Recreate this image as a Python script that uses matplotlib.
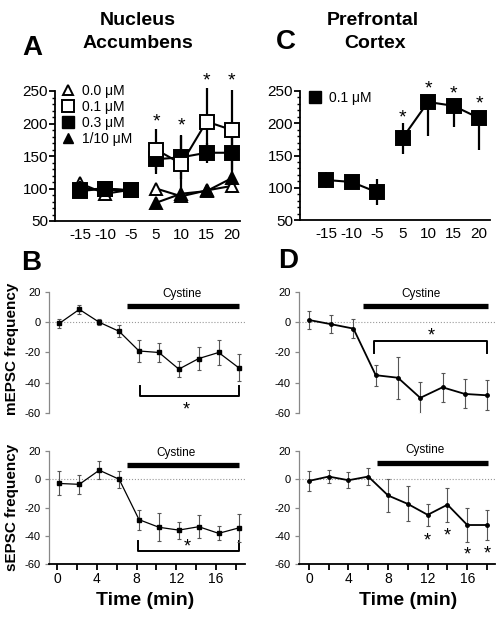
import matplotlib.pyplot as plt
from matplotlib.lines import Line2D
from matplotlib.ticker import MultipleLocator

plt.rcParams['font.family'] = ['Liberation Sans', 'DejaVu Sans']
plt.rcParams['axes.unicode_minus'] = False

W, H = 503, 618

# ---- panels A / C : % baseline around cystine (min) ----
time_labels = ['-15', '-10', '-5', '5', '10', '15', '20']

nac_00 = [108, 92, 98, 100, 88, 97, 104]
nac_00_err = [8, 6, 5, 5, 4, 3, 6]
nac_01 = [98, 100, 97, 160, 138, 203, 190]
nac_01_err = [10, 10, 12, 31, 44, 51, 62]
nac_03 = [96, 100, 97, 145, 148, 155, 155]
nac_03_err = [8, 8, 12, 22, 33, 15, 30]
nac_110 = [100, 98, 97, 78, 92, 96, 116]
nac_110_err = [12, 10, 8, 8, 8, 5, 10]
nac_star_y = [213, 206, 275, 275]  # stars over 5, 10, 15, 20

pfc_01 = [112, 109, 93, 177, 233, 227, 208]
pfc_01_lo = [12, 10, 20, 25, 53, 33, 50]
pfc_01_hi = [12, 10, 20, 24, 0, 0, 0]
pfc_star_y = [219, 264, 255, 241]

# ---- panels B / D : % change in frequency vs time (min) ----
times_b = [0.25, 2.25, 4.25, 6.25, 8.25, 10.25, 12.25, 14.25, 16.25, 18.25]
mepsc_nac = [-0.7, 8.5, 0, -6, -19, -20, -31, -24, -20, -30]
mepsc_nac_err = [3, 3, 2, 4, 7, 6, 5.5, 7.5, 8, 9]
sepsc_nac = [-3, -3.6, 6.4, 0, -28.6, -34, -36, -33.6, -38.3, -34.5]
sepsc_nac_err = [8.5, 6.5, 6.5, 6, 7, 10, 6, 8.3, 5, 10]

times_d_m = [0, 2.25, 4.5, 6.75, 9, 11.25, 13.5, 15.75, 18]
mepsc_pfc = [1.5, -1.3, -4.2, -35, -36.7, -50, -43, -47.4, -48.3]
mepsc_pfc_err = [6, 6, 6.5, 7, 14, 10.5, 9.5, 9.6, 10]
times_d_s = [0, 2, 4, 6, 8, 10, 12, 14, 16, 18]
sepsc_pfc = [-1.2, 1.9, -0.7, 1.9, -11.5, -17.5, -25.2, -18, -32.4, -32.4]
sepsc_pfc_err = [7, 4.5, 5.8, 6, 11.4, 12.4, 7.6, 12, 12.2, 10.3]
sepsc_pfc_star_x = [12, 14, 16, 18]
sepsc_pfc_star_y = [-39.6, -36, -49.6, -49]


def px_axes(l, t, r, b):
    return fig.add_axes([l / W, 1 - b / H, (r - l) / W, (b - t) / H])


def star(ax, x, y, fs=14):
    ax.annotate('*', xy=(x, y), xytext=(0, -0.575 * fs), textcoords='offset points',
                ha='center', va='baseline', fontsize=fs, annotation_clip=False)


def series(ax, y, err, marker, filled, z_pre, z_post, ms=10):
    face = 'black' if filled else 'white'
    for sl, z in ((slice(0, 3), z_pre), (slice(3, 7), z_post)):
        xs = list(range(7))[sl]
        e = [err[0][sl], err[1][sl]] if isinstance(err, tuple) else err[sl]
        ax.errorbar(xs, y[sl], yerr=e, fmt='-', color='black', lw=1.5, elinewidth=1.6,
                    capsize=0, marker=marker, ms=ms, mfc=face, mec='black', mew=1.4,
                    zorder=z, clip_on=False)


def style_top(ax, xlim):
    ax.set_xlim(*xlim)
    ax.set_ylim(50, 250)
    for s in ('top', 'right'):
        ax.spines[s].set_visible(False)
    ax.spines['left'].set_linewidth(1.3)
    ax.spines['bottom'].set_linewidth(1.3)
    ax.set_xticks(range(7))
    ax.set_xticklabels(time_labels)
    ax.set_yticks([50, 100, 150, 200, 250])
    ax.yaxis.set_minor_locator(MultipleLocator(10))
    ax.tick_params(axis='x', length=0, labelsize=11, pad=5)
    ax.tick_params(axis='y', which='major', length=4, width=1.3, labelsize=11, pad=1)
    ax.tick_params(axis='y', which='minor', length=2, width=1)


def style_time(ax, xlim, bottom):
    ax.set_xlim(*xlim)
    ax.set_ylim(-60, 20)
    for s in ('top', 'right'):
        ax.spines[s].set_visible(False)
    ax.spines['left'].set_color('#888888')
    ax.spines['left'].set_linewidth(0.9)
    ax.set_yticks([-60, -40, -20, 0, 20])
    ax.tick_params(axis='y', length=3, width=0.9, color='#888888', labelsize=8, pad=3)
    ax.axhline(0, color='#999999', ls=':', lw=0.8, zorder=0)
    if bottom:
        ax.spines['bottom'].set_linewidth(1.3)
        ax.set_xticks([0, 4, 8, 12, 16])
        ax.xaxis.set_minor_locator(MultipleLocator(2))
        ax.tick_params(axis='x', which='both', length=4, width=1.3, labelsize=10, pad=2)
    else:
        ax.spines['bottom'].set_visible(False)
        ax.set_xticks([])


def time_series(ax, t, y, err, marker, ms, lw):
    ax.errorbar(t, y, yerr=err, fmt='-', color='black', lw=lw, marker=marker, ms=ms,
                ecolor='#555555', elinewidth=0.8, capsize=1.5, capthick=0.8, zorder=3)


def cystine(ax, x0, x1, ybar, xt, yt):
    ax.plot([x0, x1], [ybar, ybar], color='black', lw=3.8, solid_capstyle='butt')
    ax.text(xt, yt, 'Cystine', ha='center', va='center', fontsize=8.5)


def bracket(ax, x0, x1, y, yend):
    ax.plot([x0, x0, x1, x1], [yend, y, y, yend], color='black', lw=1.4)


fig = plt.figure(figsize=(W / 100, H / 100), dpi=100)

# ---------------- A ----------------
axA = px_axes(55, 91, 240, 221)
series(axA, nac_00, nac_00_err, '^', False, 3, 3, ms=9)
series(axA, nac_110, nac_110_err, '^', True, 4, 4, ms=9)
series(axA, nac_01, nac_01_err, 's', False, 5, 7)
series(axA, nac_03, nac_03_err, 's', True, 6, 6)
style_top(axA, (-0.99, 6.32))
for i, ys in enumerate(nac_star_y):
    star(axA, 3 + i, ys)
handles = [
    Line2D([], [], ls='none', marker='^', ms=7.5, mfc='white', mec='black', mew=1.4),
    Line2D([], [], ls='none', marker='s', ms=8.5, mfc='white', mec='black', mew=1.4),
    Line2D([], [], ls='none', marker='s', ms=8.5, mfc='black', mec='black'),
    Line2D([], [], ls='none', marker='^', ms=7.5, mfc='black', mec='black'),
]
axA.legend(handles, ['0.0 μM', '0.1 μM', '0.3 μM', '1/10 μM'], loc='upper left',
           bbox_to_anchor=(0.032, 1.054), frameon=False, fontsize=10, handlelength=1,
           handletextpad=0.5, labelspacing=0.15, borderpad=0, borderaxespad=0)

# ---------------- C ----------------
axC = px_axes(300, 91, 490, 220)
series(axC, pfc_01, (pfc_01_lo, pfc_01_hi), 's', True, 3, 3)
style_top(axC, (-1.02, 6.43))
for i, ys in enumerate(pfc_star_y):
    star(axC, 3 + i, ys)
axC.legend([Line2D([], [], ls='none', marker='s', ms=8.5, mfc='black', mec='black')],
           ['0.1 μM'], loc='upper left', bbox_to_anchor=(0.042, 1.0), frameon=False,
           fontsize=10, handlelength=1, handletextpad=0.5, borderpad=0, borderaxespad=0)

# ---------------- B ----------------
axB1 = px_axes(49, 292, 245, 413)
style_time(axB1, (-0.8, 18.9), False)
time_series(axB1, times_b, mepsc_nac, mepsc_nac_err, 's', 3.5, 0.9)
cystine(axB1, 7.0, 18.3, 10.7, 12.6, 18.6)
bracket(axB1, 8.3, 18.3, -49, -42)
star(axB1, 13.0, -54, 13)

axB2 = px_axes(49, 451, 245, 564)
style_time(axB2, (-0.8, 18.9), True)
time_series(axB2, times_b, sepsc_nac, sepsc_nac_err, 's', 3.5, 0.9)
cystine(axB2, 7.0, 18.3, 10.2, 12.0, 18.6)
bracket(axB2, 8.1, 18.3, -51, -43.5)
star(axB2, 13.1, -43.5, 13)

# ---------------- D ----------------
axD1 = px_axes(299, 292, 495, 413)
style_time(axD1, (-1.0, 18.8), False)
time_series(axD1, times_d_m, mepsc_pfc, mepsc_pfc_err, 'o', 2.5, 1.3)
cystine(axD1, 5.5, 18.1, 10.7, 11.3, 18.6)
bracket(axD1, 6.6, 18.0, -12.2, -20.3)
star(axD1, 12.4, -5, 13)

axD2 = px_axes(299, 451, 495, 564)
style_time(axD2, (-1.0, 18.8), True)
time_series(axD2, times_d_s, sepsc_pfc, sepsc_pfc_err, 'o', 2.5, 1.3)
cystine(axD2, 6.9, 18.1, 11.5, 11.7, 20.5)
for xs, ys in zip(sepsc_pfc_star_x, sepsc_pfc_star_y):
    star(axD2, xs, ys, 13)

# ---------------- text ----------------
for x, y, s in ((32, 55, 'A'), (31, 270, 'B'), (286, 49, 'C'), (288, 268, 'D')):
    fig.text(x / W, 1 - y / H, s, ha='center', va='baseline', fontsize=20, fontweight='bold')
for x, y, s in ((138, 25, 'Nucleus'), (138, 48, 'Accumbens'),
                (373, 25, 'Prefrontal'), (375, 48, 'Cortex')):
    fig.text(x / W, 1 - y / H, s, ha='center', va='baseline', fontsize=14, fontweight='bold')
for x, s in ((145, 'Time (min)'), (408, 'Time (min)')):
    fig.text(x / W, 1 - 605 / H, s, ha='center', va='baseline', fontsize=14, fontweight='bold')
fig.text(12 / W, 1 - 349 / H, 'mEPSC frequency', rotation=90, ha='center', va='center',
         fontsize=11, fontweight='bold')
fig.text(12 / W, 1 - 507 / H, 'sEPSC frequency', rotation=90, ha='center', va='center',
         fontsize=11, fontweight='bold')

fig.savefig('out.png', dpi=100)
